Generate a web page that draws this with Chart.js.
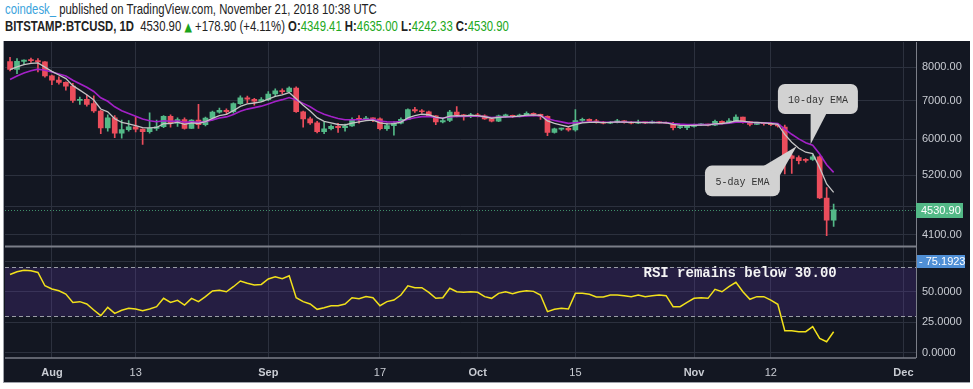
<!DOCTYPE html>
<html>
<head>
<meta charset="utf-8">
<script src="https://cdn.jsdelivr.net/npm/chart.js@4.4.0/dist/chart.umd.min.js"></script>
<style>
  body { margin:0; background:#fff; width:973px; height:389px; overflow:hidden; position:relative;
         font-family:"Liberation Sans",Arial,sans-serif; }
  .hdr { position:absolute; left:5px; font-size:14px; color:#222; white-space:nowrap; line-height:17px;
         transform:scaleX(0.81); transform-origin:0 0; }
  #h1 { top:1px; }
  #h2 { top:18px; }
  .cd { color:#3ba3dc; }
  .g { color:#21a821; }
  .tri { color:#1aa31a; font-family:"DejaVu Sans"; font-size:12px; }
  #wrap { position:absolute; left:3px; top:41px; width:966px; height:341px; background:#131722;
          border-left:1px solid #9ea2aa; border-bottom:1px solid #9ea2aa; }
</style>
</head>
<body>
<div class="hdr" id="h1"><span class="cd">coindesk_</span> published on TradingView.com, November 21, 2018 10:38 UTC</div>
<div class="hdr" id="h2"><b>BITSTAMP:BTCUSD, 1D</b>&nbsp; 4530.90 <span class="tri">▲</span> +178.90 (+4.11%) <b>O:</b><span class="g">4349.41</span> <b>H:</b><span class="g">4635.00</span> <b>L:</b><span class="g">4242.33</span> <b>C:</b><span class="g">4530.90</span></div>
<div id="wrap"><canvas id="btc" width="966" height="341"></canvas></div>
<script>
// daily candles, Jul 26 -> Nov 21 2018 (index 0 = Jul 26)
const opens = [8180,7930,8190,8230,8210,8170,7730,7600,7530,7420,
  7010,7040,6920,6720,6280,6540,6150,6240,6310,6250,
  6190,6270,6310,6580,6400,6490,6270,6480,6360,6530,
  6690,6740,6700,6920,7080,7040,6990,7030,7190,7280,
  7260,7360,6700,6510,6410,6190,6260,6320,6290,6330,
  6520,6500,6530,6510,6260,6340,6400,6500,6760,6720,
  6700,6590,6430,6470,6690,6620,6580,6620,6590,6510,
  6450,6590,6600,6580,6610,6660,6630,6580,6170,6250,
  6270,6230,6470,6500,6460,6430,6400,6420,6460,6420,
  6400,6420,6410,6420,6410,6400,6290,6290,6320,6360,
  6370,6350,6450,6410,6460,6560,6440,6370,6400,6390,
  6360,6300,5620,5580,5540,5540,5600,4750,4349.41];
const highs = [8320,8280,8240,8300,8280,8180,7750,7700,7550,7500,
  7100,7160,7140,6740,6620,6600,6480,6470,6550,6260,
  6670,6480,6600,6620,6540,6540,6490,6900,6560,6720,
  6800,6780,6940,7140,7130,7070,7090,7260,7340,7340,
  7400,7400,6720,6560,6450,6420,6360,6400,6380,6540,
  6600,6580,6540,6540,6400,6440,6540,6780,6820,6760,
  6720,6600,6530,6740,6840,6630,6660,6660,6620,6520,
  6610,6640,6610,6640,6700,6670,6640,6590,6280,6280,
  6290,6760,6530,6510,6500,6450,6450,6500,6470,6440,
  6480,6430,6460,6440,6430,6420,6320,6330,6380,6390,
  6380,6480,6460,6520,6620,6560,6450,6420,6420,6410,
  6370,6350,5640,5620,5560,5640,5620,4950,4635.00];
const lows = [7880,7800,8100,8150,7850,7690,7460,7480,7300,6950,
  6900,6850,6680,6140,6200,6040,6030,6200,6180,5880,
  6150,6220,6290,6300,6320,6250,6260,6270,6330,6480,
  6660,6620,6660,6900,6940,6880,6970,7000,7140,7200,
  7240,6680,6300,6370,6160,6140,6230,6170,6200,6320,
  6400,6480,6440,6230,6220,6100,6380,6490,6680,6660,
  6580,6360,6410,6440,6560,6480,6540,6560,6500,6430,
  6440,6550,6540,6560,6590,6590,6500,6090,6150,6220,
  6200,6200,6430,6420,6400,6380,6390,6410,6400,6380,
  6390,6390,6400,6400,6390,6230,6260,6240,6300,6340,
  6330,6340,6380,6400,6450,6400,6330,6360,6350,6340,
  6300,5230,5240,5440,5480,5520,4740,4090,4242.33];
const closes = [7930,8190,8230,8210,8170,7730,7600,7530,7420,7010,
  7040,6900,6720,6280,6540,6150,6240,6310,6250,6190,
  6270,6310,6580,6400,6490,6270,6480,6360,6530,6690,
  6740,6700,6920,7080,7040,6990,7030,7190,7280,7260,
  7360,6700,6510,6410,6190,6260,6320,6290,6330,6490,
  6500,6530,6510,6260,6340,6400,6500,6760,6720,6700,
  6590,6430,6470,6690,6620,6580,6620,6590,6510,6450,
  6590,6600,6580,6610,6660,6630,6580,6170,6260,6270,
  6230,6470,6500,6450,6430,6400,6430,6460,6420,6400,
  6420,6410,6420,6410,6400,6290,6300,6320,6360,6370,
  6350,6450,6410,6460,6560,6440,6370,6400,6390,6360,
  6330,5620,5560,5510,5520,5600,4750,4350,4530.90];
const ema5 = [7920,8010,8083,8125,8140,8003,7869,7756,7644,7433,
  7302,7168,7019,6773,6695,6513,6422,6385,6340,6290,
  6283,6292,6388,6392,6425,6373,6409,6393,6439,6523,
  6595,6630,6727,6845,6910,6937,6968,7042,7121,7167,
  7231,7054,6873,6719,6543,6449,6406,6367,6355,6400,
  6433,6465,6480,6407,6385,6390,6427,6538,6599,6633,
  6619,6556,6527,6581,6594,6589,6599,6596,6567,6528,
  6549,6566,6571,6584,6609,6616,6604,6459,6393,6352,
  6311,6364,6409,6423,6425,6417,6421,6434,6429,6419,
  6419,6416,6417,6415,6410,6370,6347,6338,6345,6353,
  6352,6385,6393,6415,6463,6455,6427,6418,6409,6393,
  6372,6121,5934,5793,5702,5668,5362,5025,4860];
const ema10 = [7620,7724,7816,7888,7939,7901,7846,7789,7722,7593,
  7492,7384,7263,7084,6985,6833,6725,6650,6577,6507,
  6464,6436,6462,6451,6458,6424,6434,6421,6441,6486,
  6532,6563,6628,6710,6770,6810,6850,6912,6979,7030,
  7090,7019,6926,6832,6715,6632,6575,6523,6488,6488,
  6490,6497,6499,6456,6435,6429,6442,6500,6540,6569,
  6573,6547,6533,6562,6573,6574,6582,6583,6570,6548,
  6556,6564,6567,6575,6590,6597,6594,6517,6470,6434,
  6397,6410,6426,6430,6430,6425,6426,6432,6430,6425,
  6424,6421,6421,6419,6416,6393,6376,6366,6365,6366,
  6363,6379,6385,6399,6428,6430,6419,6416,6411,6402,
  6389,6249,6124,6012,5923,5864,5661,5423,5261];
const rsi = [64.0,66.3,67.4,67.1,65.7,54.8,52.1,50.7,48.0,41.2,
  41.8,39.9,35.0,30.3,37.1,32.2,34.7,36.3,35.8,34.4,
  35.8,37.7,44.5,41.2,42.9,39.0,44.5,41.8,45.9,50.5,
  51.1,49.9,54.0,58.7,56.8,55.4,55.9,60.3,62.2,60.6,
  63.0,45.0,41.8,39.9,35.5,36.8,38.5,38.5,39.9,45.0,
  44.2,45.9,45.0,38.5,41.8,43.1,47.2,54.8,53.2,53.2,
  49.4,44.5,45.0,52.7,49.9,49.4,49.9,49.4,45.9,44.5,
  48.6,49.9,48.3,49.9,50.8,50.2,47.2,33.6,35.5,36.3,
  35.8,48.6,48.6,47.8,45.6,45.6,47.2,47.2,46.7,45.9,
  47.2,45.9,46.7,47.2,46.7,37.7,37.7,41.2,44.5,45.0,
  44.5,51.9,49.9,54.0,57.6,49.9,43.7,45.9,45.9,43.1,
  39.6,18.0,18.0,17.2,17.2,21.3,11.8,9.0,17.2];

// axis ticks (x = day index from Jul 26)
const tickDays = [6, 18, 37, 53, 67, 81, 98, 109, 128];
const tickLabels = ['Aug', '13', 'Sep', '17', 'Oct', '15', 'Nov', '12', 'Dec'];
const priceTicks = [4100, 4600, 5200, 6000, 7000, 8000];
const rsiTicks = [0, 25, 50, 75];
const rsiBand = [30, 70];
const rsiMarker = 75.1923;

const UP = '#53b987', DOWN = '#eb4d5c';
const GRID = '#2c313e', TXT = '#c9ccd3', AXIS = '#7b7e88';
const candleColors = closes.map((c, i) => c >= opens[i] ? UP : DOWN);

Chart.defaults.font.family = '"Liberation Sans", Arial, sans-serif';
Chart.defaults.font.size = 11;

function callout(ctx, box, tri, text) {
  ctx.fillStyle = '#d2d2d2';
  ctx.beginPath();
  ctx.roundRect(box[0], box[1], box[2], box[3], 7);
  ctx.fill();
  ctx.beginPath();
  ctx.moveTo(tri[0][0], tri[0][1]);
  ctx.lineTo(tri[1][0], tri[1][1]);
  ctx.lineTo(tri[2][0], tri[2][1]);
  ctx.closePath();
  ctx.fill();
  ctx.fillStyle = '#333';
  ctx.font = '10px "Liberation Mono", monospace';
  ctx.textAlign = 'center';
  ctx.textBaseline = 'middle';
  ctx.fillText(text, box[0] + box[2] / 2, box[1] + box[3] / 2 + 1);
}

// no extra label padding, panes fill the canvas exactly
function fitRight(s) {
  s.width = 54;
  s.paddingTop = 0;
  s.paddingBottom = 0;
}

const decor = {
  id: 'decor',
  beforeDatasetsDraw(chart) {
    const { ctx, chartArea: a, scales: { y, y2 } } = chart;
    ctx.save();
    // RSI 30-70 band
    const t = Math.round(y2.getPixelForValue(rsiBand[1])) + 0.5;
    const b = Math.round(y2.getPixelForValue(rsiBand[0])) + 0.5;
    ctx.fillStyle = 'rgba(103,58,183,0.22)';
    ctx.fillRect(a.left, t, a.right - a.left, b - t);
    ctx.strokeStyle = '#9a9da6';
    ctx.lineWidth = 1;
    ctx.setLineDash([4, 3]);
    for (const py of [t, b]) {
      ctx.beginPath(); ctx.moveTo(a.left, py); ctx.lineTo(a.right, py); ctx.stroke();
    }
    // last price line
    const pc = Math.round(y.getPixelForValue(closes[closes.length - 1])) + 0.5;
    ctx.strokeStyle = '#3f8f6a';
    ctx.setLineDash([1, 2]);
    ctx.beginPath(); ctx.moveTo(a.left, pc); ctx.lineTo(a.right, pc); ctx.stroke();
    ctx.restore();
  },
  afterDatasetsDraw(chart) {
    const { ctx, chartArea: a, scales: { x, y, y2 } } = chart;
    ctx.save();
    // pane borders
    ctx.strokeStyle = AXIS;
    ctx.lineWidth = 2;
    ctx.beginPath(); ctx.moveTo(a.left, y.bottom); ctx.lineTo(a.right, y.bottom); ctx.stroke();
    ctx.lineWidth = 1.5;
    ctx.beginPath(); ctx.moveTo(a.left, a.bottom); ctx.lineTo(a.right, a.bottom); ctx.stroke();
    ctx.lineWidth = 1;
    ctx.beginPath(); ctx.moveTo(a.right + 0.5, a.top); ctx.lineTo(a.right + 0.5, a.bottom); ctx.stroke();

    // EMA callouts
    let tx = x.getPixelForValue(114.7), ty = y.getPixelForValue(5885);
    callout(ctx, [tx - 32.7, ty - 60.3, 80, 30], [[tx, ty - 31], [tx + 16, ty - 31], [tx, ty]], '10-day EMA');
    tx = x.getPixelForValue(112.7); ty = y.getPixelForValue(5840);
    callout(ctx, [tx - 91.7, ty + 19.4, 75, 30.6], [[tx - 33.4, ty + 20], [tx - 16.7, ty + 29], [tx, ty]], '5-day EMA');

    // RSI note
    ctx.fillStyle = '#f4f4f4';
    ctx.font = 'bold 14px "Liberation Mono", monospace';
    ctx.textAlign = 'center';
    ctx.textBaseline = 'middle';
    ctx.fillText('RSI remains below 30.00', x.getPixelForValue(104.6), y2.getPixelForValue(65.2));

    // axis value badges
    ctx.font = '11px "Liberation Sans", Arial, sans-serif';
    ctx.textAlign = 'left';
    const pc = y.getPixelForValue(closes[closes.length - 1]);
    ctx.fillStyle = UP;
    ctx.fillRect(a.right, Math.round(pc) - 7, 47, 15);
    ctx.fillStyle = '#fff';
    ctx.fillText(closes[closes.length - 1].toFixed(2), a.right + 5, pc + 1);
    const pr = y2.getPixelForValue(rsiMarker);
    ctx.fillStyle = '#4f8fd6';
    ctx.fillRect(a.right + 1, Math.round(pr) - 6, 48, 13);
    ctx.fillStyle = '#fff';
    ctx.fillText('- ' + rsiMarker.toFixed(4), a.right + 3, pr + 1);
    ctx.restore();
  }
};

new Chart(document.getElementById('btc'), {
  type: 'bar',
  data: {
    datasets: [
      { type: 'line', label: '5-day EMA', data: ema5.map((v, i) => ({ x: i, y: v })),
        borderColor: '#c4c4c4', borderWidth: 1.3, pointRadius: 0, yAxisID: 'y' },
      { type: 'line', label: '10-day EMA', data: ema10.map((v, i) => ({ x: i, y: v })),
        borderColor: '#a321c7', borderWidth: 1.6, pointRadius: 0, yAxisID: 'y' },
      { type: 'line', label: 'RSI', data: rsi.map((v, i) => ({ x: i, y: v })),
        borderColor: '#f2e11b', borderWidth: 1.5, pointRadius: 0, yAxisID: 'y2' },
      { label: 'body', data: opens.map((o, i) => ({ x: i, y: [o, closes[i]] })),
        backgroundColor: candleColors, barThickness: 5, minBarLength: 1, grouped: false, yAxisID: 'y' },
      { label: 'wick', data: lows.map((l, i) => ({ x: i, y: [l, highs[i]] })),
        backgroundColor: candleColors, barThickness: 1, grouped: false, yAxisID: 'y' }
    ]
  },
  options: {
    responsive: false,
    animation: false,
    devicePixelRatio: 1,
    layout: { padding: { left: 1, top: 1, right: 0, bottom: 0 } },
    plugins: { legend: { display: false }, tooltip: { enabled: false } },
    scales: {
      x: {
        type: 'linear', min: -0.72, max: 129.8, offset: false,
        afterBuildTicks: s => { s.ticks = tickDays.map(v => ({ value: v })); },
        afterFit: s => { s.height = 24; s.paddingLeft = 0; s.paddingRight = 0; },
        grid: { color: GRID, drawTicks: false, offset: false },
        border: { display: false },
        ticks: {
          padding: 8, color: TXT, autoSkip: false, maxRotation: 0,
          callback: (v, i) => tickLabels[i],
          font: c => ({ size: 11, weight: /^\d/.test(tickLabels[c.index] || '') ? 'normal' : 'bold' })
        }
      },
      y: {
        type: 'logarithmic', position: 'right', stack: 'pane', stackWeight: 204.5,
        min: 3916, max: 8845,
        afterBuildTicks: s => { s.ticks = priceTicks.map(v => ({ value: v })); },
        afterFit: fitRight,
        grid: { color: GRID, drawTicks: false },
        border: { display: false },
        ticks: { padding: 6, color: TXT, autoSkip: false, callback: v => v === 4600 ? '' : Number(v).toFixed(2) }
      },
      y2: {
        type: 'linear', position: 'right', stack: 'pane', stackWeight: 111.5,
        min: -4.3, max: 86.9,
        afterBuildTicks: s => { s.ticks = rsiTicks.map(v => ({ value: v })); },
        afterFit: fitRight,
        grid: { color: GRID, drawTicks: false },
        border: { display: false },
        ticks: { padding: 6, color: TXT, autoSkip: false, callback: v => v === 75 ? '' : Number(v).toFixed(4) }
      }
    }
  },
  plugins: [decor]
});
</script>
</body>
</html>
